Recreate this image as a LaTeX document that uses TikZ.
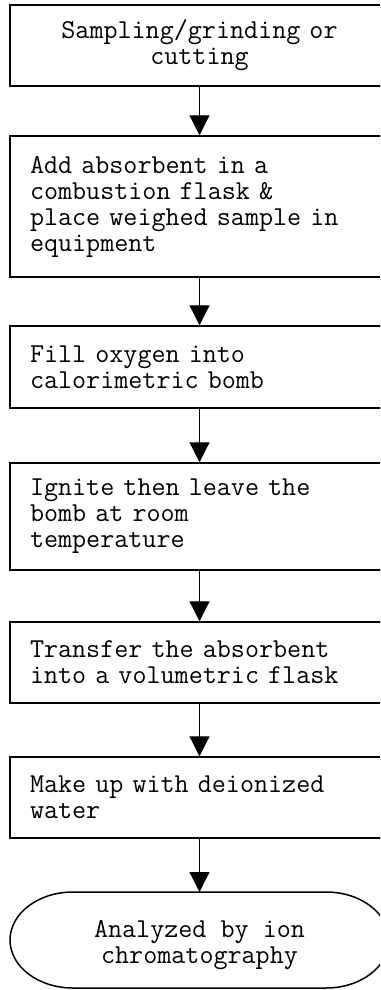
\documentclass[tikz,border=0pt]{standalone}
\usepackage{fontspec}
\usetikzlibrary{arrows.meta}
\newcommand{\flowfont}{\ttfamily\fontsize{27.3}{26}\selectfont}
\tikzset{
  stepbox/.style={draw=black, line width=1.5pt, minimum width=379pt, inner xsep=20pt,
    text width=339pt, align=left, font=\flowfont},
  centerbox/.style={stepbox, align=center},
  arr/.style={line width=1.2pt, -{Triangle[width=20pt,length=20pt]}},
  ovaltext/.style={align=center, inner sep=0pt, font=\flowfont}
}
\begin{document}
\begin{tikzpicture}[x=1pt,y=1pt]
\useasboundingbox (0,0) rectangle (380,-990);
\clip (0,0) rectangle (380,-990);
\node[centerbox, minimum height=81pt] (b1) at (199.5,-45.5) {Sampling/grinding or\\cutting};
\node[stepbox, minimum height=141pt] (b2) at (199.5,-206.5) {Add absorbent in a\\combustion flask \&\\place weighed sample in\\equipment};
\node[stepbox, minimum height=82pt] (b3) at (199.5,-367) {Fill oxygen into\\calorimetric bomb};
\node[stepbox, minimum height=107pt] (b4) at (199.5,-516.5) {Ignite then leave the\\bomb at room\\temperature};
\node[stepbox, minimum height=81pt] (b5) at (199.5,-662.5) {Transfer the absorbent\\into a volumetric flask};
\node[stepbox, minimum height=81pt] (b6) at (199.5,-797.5) {Make up with deionized\\water};
% terminator
\draw[line width=1.5pt] (73,-892) -- (326,-892)
  arc[start angle=90, end angle=-90, x radius=63, y radius=48] -- (73,-988)
  arc[start angle=270, end angle=90, x radius=63, y radius=48] -- cycle;
\coordinate (endtop) at (199.5,-892);
\node[ovaltext] (b7) at (199.5,-945) {Analyzed by ion\\chromatography};
\draw[arr] (b1.south) -- (b2.north);
\draw[arr] (b2.south) -- (b3.north);
\draw[arr] (b3.south) -- (b4.north);
\draw[arr] (b4.south) -- (b5.north);
\draw[arr] (b5.south) -- (b6.north);
\draw[arr] (b6.south) -- (endtop);
\end{tikzpicture}
\end{document}
